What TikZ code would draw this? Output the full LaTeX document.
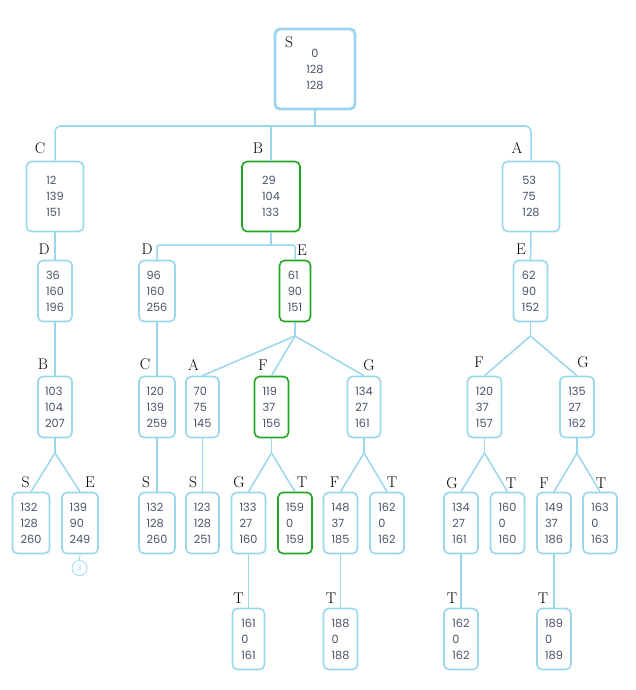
\documentclass[tikz,border=0pt]{standalone}
\usepackage{fontspec}
\newfontfamily\numfont{Poppins}
\definecolor{edge}{HTML}{9AD6EC}
\definecolor{pathgreen}{HTML}{22A622}
\definecolor{numtext}{HTML}{4A5568}
\begin{document}
\begin{tikzpicture}[x=1pt,y=-1pt,
  state/.style={draw=edge, line width=1.6pt, rounded corners=5pt, fill=white,
    inner sep=0pt, align=left, text=numtext,
    font=\numfont\fontsize{11.3}{16}\selectfont,
    minimum width=34pt, minimum height=61pt},
  onpath/.style={draw=pathgreen},
  wide/.style={minimum width=57pt, minimum height=70pt},
  tag/.style={font=\fontsize{15.5}{15.5}\selectfont, inner sep=0pt},
  link/.style={draw=edge, line width=1.5pt},
]
\useasboundingbox (0,0) rectangle (635,690);

% root
\node[state, line width=2.8pt, minimum width=80pt, minimum height=80pt, align=center] (root) at (315,69) {0\\128\\128};

% first level
\node[state, wide] (C1) at (55,196.5) {12\\139\\151};
\node[state, wide, onpath, minimum width=58pt] (B1) at (271,196.5) {29\\104\\133};
\node[state, wide] (A1) at (531,196.5) {53\\75\\128};

% second level
\node[state] (D2a) at (55,291) {36\\160\\196};
\node[state, minimum width=36pt] (D2b) at (157,291) {96\\160\\256};
\node[state, onpath, minimum width=31pt] (E2b) at (295,291) {61\\90\\151};
\node[state] (E2c) at (530.5,291) {62\\90\\152};

% third level
\node[state] (B3a) at (55,407) {103\\104\\207};
\node[state, minimum width=36pt] (C3b) at (157,407) {120\\139\\259};
\node[state, minimum width=33pt] (A3e) at (202.5,407) {70\\75\\145};
\node[state, onpath] (F3e) at (271.5,407) {119\\37\\156};
\node[state, minimum width=33pt] (G3e) at (364,407) {134\\27\\161};
\node[state] (F3r) at (484.5,407) {120\\37\\157};
\node[state] (G3r) at (577,407) {135\\27\\162};

% fourth level
\node[state, minimum width=37pt] (S4a) at (31,523) {132\\128\\260};
\node[state, minimum width=36pt] (E4a) at (80,523) {139\\90\\249};
\node[state, minimum width=36pt] (S4b) at (157,523) {132\\128\\260};
\node[state, minimum width=33pt] (S4c) at (202.5,523) {123\\128\\251};
\node[state] (G4f) at (248.5,523) {133\\27\\160};
\node[state, onpath] (T4f) at (295,523) {159\\0\\159};
\node[state] (F4g) at (340.5,523) {148\\37\\185};
\node[state] (T4g) at (387,523) {162\\0\\162};
\node[state] (G4r) at (461,523) {134\\27\\161};
\node[state] (T4r) at (507.5,523) {160\\0\\160};
\node[state] (F4r) at (554,523) {149\\37\\186};
\node[state] (T4s) at (600,523) {163\\0\\163};

% fifth level
\node[state, minimum width=32pt] (T5a) at (248.5,639) {161\\0\\161};
\node[state] (T5b) at (340.5,639) {188\\0\\188};
\node[state] (T5c) at (461,639) {162\\0\\162};
\node[state] (T5d) at (554,639) {189\\0\\189};

% collapsed subtree marker
\node[circle, draw=edge, line width=0.8pt, minimum size=15pt, inner sep=0pt,
  text=edge, font=\numfont\fontsize{7}{7}\selectfont] (more) at (79.5,568) {3};

% letter tags
\node[tag] (tS0) at (289,42) {S};
\node[tag] (tC1) at (40,148) {C};
\node[tag] (tB1) at (258,148) {B};
\node[tag] (tA1) at (517,148) {A};
\node[tag] (tD2a) at (44,249) {D};
\node[tag] (tD2b) at (147,249) {D};
\node[tag] (tE2b) at (302,250) {E};
\node[tag] (tE2c) at (521,249) {E};
\node[tag] (tB3a) at (43,364) {B};
\node[tag] (tC3b) at (145,364) {C};
\node[tag] (tA3e) at (193.5,365) {A};
\node[tag] (tF3e) at (263,365) {F};
\node[tag] (tG3e) at (369,365) {G};
\node[tag] (tF3r) at (479,362) {F};
\node[tag] (tG3r) at (583,362) {G};
\node[tag] (tS4a) at (25.5,482) {S};
\node[tag] (tE4a) at (90,482) {E};
\node[tag] (tS4b) at (146,482) {S};
\node[tag] (tS4c) at (193,482) {S};
\node[tag] (tG4f) at (239,482) {G};
\node[tag] (tT4f) at (302,482) {T};
\node[tag] (tF4g) at (334.5,482) {F};
\node[tag] (tT4g) at (392,482) {T};
\node[tag] (tG4r) at (452,483) {G};
\node[tag] (tT4r) at (511,483) {T};
\node[tag] (tF4r) at (544,483) {F};
\node[tag] (tT4s) at (601,483) {T};
\node[tag] (tT5a) at (238.5,598) {T};
\node[tag] (tT5b) at (331,598) {T};
\node[tag] (tT5c) at (452,598) {T};
\node[tag] (tT5d) at (543,598) {T};

% branching points
\coordinate (j0) at (315,126);
\coordinate (j1) at (271,245);
\coordinate (j2) at (295,336);
\coordinate (j3) at (530.5,336);
\coordinate (j4) at (55,453);
\coordinate (j5) at (271.5,453);
\coordinate (j6) at (364,453);
\coordinate (j7) at (484.5,453);
\coordinate (j8) at (577,453);

% connectors
\draw[link] (root.south) -- (j0);
\draw[link, rounded corners=6pt] (C1.north) |- (j0) -| (A1.north);
\draw[link] (B1.north) -- (B1.north |- j0);
\draw[link] (C1.south) -- (D2a.north);
\draw[link] (B1.south) -- (j1);
\draw[link, rounded corners=2pt] (D2b.north) |- (j1) -| (E2b.north);
\draw[link] (A1.south) -- (E2c.north);
\draw[link] (D2a.south) -- (B3a.north);
\draw[link] (D2b.south) -- (C3b.north);
\draw[link] (E2b.south) -- (j2);
\draw[link] (j2) -- (A3e.north);
\draw[link] (j2) -- (F3e.north);
\draw[link] (j2) -- (G3e.north);
\draw[link] (E2c.south) -- (j3);
\draw[link] (j3) -- (F3r.north);
\draw[link] (j3) -- (G3r.north);
\draw[link] (B3a.south) -- (j4);
\draw[link] (j4) -- (S4a.north);
\draw[link] (j4) -- (E4a.north);
\draw[link] (C3b.south) -- (S4b.north);
\draw[link] (A3e.south) -- (S4c.north);
\draw[link] (F3e.south) -- (j5);
\draw[link] (j5) -- (G4f.north);
\draw[link] (j5) -- (T4f.north);
\draw[link] (G3e.south) -- (j6);
\draw[link] (j6) -- (F4g.north);
\draw[link] (j6) -- (T4g.north);
\draw[link] (F3r.south) -- (j7);
\draw[link] (j7) -- (G4r.north);
\draw[link] (j7) -- (T4r.north);
\draw[link] (G3r.south) -- (j8);
\draw[link] (j8) -- (F4r.north);
\draw[link] (j8) -- (T4s.north);
\draw[link] (G4f.south) -- (T5a.north);
\draw[link] (F4g.south) -- (T5b.north);
\draw[link] (G4r.south) -- (T5c.north);
\draw[link] (F4r.south) -- (T5d.north);
\draw[link, line width=0.8pt] (E4a.south) -- (more.north);
\end{tikzpicture}
\end{document}
